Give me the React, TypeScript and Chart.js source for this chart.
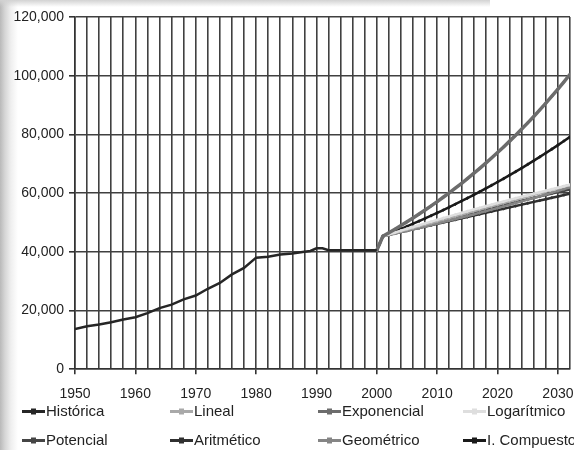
import React, { useEffect, useRef } from "react";
import { Chart, registerables } from "chart.js";

Chart.register(...registerables);

const histYears = [1950, 1952, 1954, 1956, 1958, 1960, 1962, 1964, 1966, 1968, 1970, 1972, 1974, 1976, 1978, 1980, 1982, 1984, 1986, 1988, 1989, 1990, 1991, 1992, 1994, 1996, 1998, 2000];
const histValues = [13700, 14600, 15200, 16000, 16900, 17700, 19100, 20800, 22000, 23800, 25100, 27400, 29400, 32300, 34500, 38000, 38300, 39100, 39400, 40000, 40300, 41200, 41200, 40550, 40550, 40550, 40550, 40550];

const projYears = [2000, 2001, 2002, 2003, 2004, 2005, 2006, 2007, 2008, 2009, 2010, 2011, 2012, 2013, 2014, 2015, 2016, 2017, 2018, 2019, 2020, 2021, 2022, 2023, 2024, 2025, 2026, 2027, 2028, 2029, 2030, 2031, 2032];

const linealValues = [40550, 45300, 45865, 46430, 46995, 47560, 48125, 48690, 49255, 49820, 50385, 50950, 51515, 52080, 52645, 53210, 53775, 54340, 54905, 55470, 56035, 56600, 57165, 57730, 58295, 58860, 59425, 59990, 60555, 61120, 61685, 62250, 62815];
const exponencialValues = [40550, 45300, 46479, 47689, 48930, 50204, 51511, 52852, 54228, 55640, 57088, 58574, 60099, 61663, 63268, 64915, 66605, 68339, 70118, 71943, 73816, 75737, 77708, 79731, 81806, 83935, 86120, 88362, 90662, 93022, 95443, 97927, 100476];
const logaritmicoValues = [40550, 45300, 45940, 46575, 47205, 47830, 48450, 49065, 49675, 50280, 50880, 51475, 52065, 52650, 53230, 53805, 54375, 54940, 55500, 56055, 56605, 57150, 57690, 58225, 58755, 59280, 59800, 60315, 60825, 61330, 61830, 62325, 62815];
const potencialValues = [40550, 45300, 45860, 46417, 46971, 47522, 48070, 48615, 49157, 49696, 50232, 50765, 51295, 51822, 52346, 52867, 53385, 53900, 54412, 54921, 55427, 55930, 56430, 56927, 57421, 57912, 58400, 58885, 59367, 59846, 60322, 60795, 61265];
const aritmeticoValues = [40550, 45300, 45768, 46236, 46704, 47172, 47640, 48108, 48576, 49044, 49512, 49980, 50448, 50916, 51384, 51852, 52320, 52788, 53256, 53724, 54192, 54660, 55128, 55596, 56064, 56532, 57000, 57468, 57936, 58404, 58872, 59340, 59808];
const geometricoValues = [40550, 45300, 45761, 46227, 46698, 47173, 47653, 48138, 48628, 49123, 49623, 50128, 50638, 51154, 51675, 52201, 52732, 53269, 53811, 54359, 54912, 55471, 56036, 56606, 57182, 57764, 58352, 58946, 59546, 60152, 60764, 61383, 62008];
const compuestoValues = [40550, 45300, 46123, 46961, 47814, 48682, 49566, 50466, 51383, 52316, 53266, 54234, 55219, 56222, 57243, 58283, 59342, 60420, 61517, 62634, 63772, 64930, 66109, 67310, 68533, 69778, 71045, 72335, 73649, 74987, 76349, 77736, 79148];

const seriesNames = ["Histórica", "Lineal", "Exponencial", "Logarítmico", "Potencial", "Aritmético", "Geométrico", "I. Compuesto"];
const seriesColors = ["#262626", "#a9a9a9", "#6c6c6c", "#dedede", "#454545", "#303030", "#858585", "#1a1a1a"];

const FONT = "Arial, 'Liberation Sans', sans-serif";

const toPoints = (xs: number[], ys: number[]) => xs.map((x, i) => ({ x, y: ys[i] }));

const legendPlugin = {
  id: "gridLegend",
  afterDraw(chart: any) {
    const ctx = chart.ctx;
    const cols = [22, 170, 318, 463];
    const rows = [411.5, 440.5];
    ctx.save();
    ctx.font = `15px ${FONT}`;
    ctx.textBaseline = "middle";
    ctx.textAlign = "left";
    seriesNames.forEach((name, i) => {
      const x = cols[i % 4];
      const y = rows[Math.floor(i / 4)];
      const color = seriesColors[i];
      ctx.strokeStyle = color;
      ctx.lineWidth = 3;
      ctx.beginPath();
      ctx.moveTo(x, y);
      ctx.lineTo(x + 23, y);
      ctx.stroke();
      ctx.fillStyle = color;
      ctx.fillRect(x + 9, y - 3, 5, 6);
      ctx.fillStyle = "#222";
      ctx.fillText(name, x + 24, y + 0.5);
    });
    ctx.restore();
  },
};

const chartAreaBg = {
  id: "chartAreaBg",
  beforeDraw(chart: any) {
    const { ctx, chartArea } = chart;
    ctx.save();
    ctx.fillStyle = "#ffffff";
    ctx.fillRect(chartArea.left, chartArea.top, chartArea.right - chartArea.left, chartArea.bottom - chartArea.top);
    ctx.restore();
  },
};

export default function App() {
  const ref = useRef<HTMLCanvasElement>(null);

  useEffect(() => {
    if (!ref.current) return;
    const projSets = [linealValues, exponencialValues, logaritmicoValues, potencialValues, aritmeticoValues, geometricoValues, compuestoValues];
    const order = [2, 3, 1, 6, 4, 5, 7];
    const datasets: any[] = [
      {
        label: seriesNames[0],
        data: toPoints(histYears, histValues),
        borderColor: seriesColors[0],
        backgroundColor: seriesColors[0],
        borderWidth: 2.5,
        pointRadius: 0,
      },
    ];
    order.forEach((idx) => {
      datasets.push({
        label: seriesNames[idx],
        data: toPoints(projYears, projSets[idx - 1]),
        borderColor: seriesColors[idx],
        backgroundColor: seriesColors[idx],
        borderWidth: idx === 2 ? 3.5 : 2.5,
        pointRadius: idx === 8 ? 0 : 1.8,
        pointStyle: "rectRot",
        pointBorderWidth: 0,
      });
    });

    const chart = new Chart(ref.current, {
      type: "line",
      data: { datasets },
      options: {
        animation: false,
        responsive: false,
        devicePixelRatio: 1,
        layout: { padding: { top: 17, right: 3, bottom: 35, left: 0 } },
        plugins: { legend: { display: false }, tooltip: { enabled: false } },
        elements: { line: { tension: 0 } },
        scales: {
          x: {
            type: "linear",
            min: 1950,
            max: 2032,
            border: { color: "#333", width: 1.5 },
            grid: {
              color: "#404040",
              lineWidth: 1.6,
              tickLength: 5,
              tickColor: (c: any) => (c.tick && c.tick.value % 10 === 0 ? "#333" : "rgba(0,0,0,0)"),
            },
            ticks: {
              stepSize: 2,
              autoSkip: false,
              maxRotation: 0,
              padding: 12,
              color: "#222",
              font: { family: FONT, size: 14 },
              callback: (v: any) => (Number(v) % 10 === 0 ? String(v) : ""),
            },
            afterFit: (scale: any) => {
              scale.paddingRight = 0;
              scale.paddingLeft = 0;
            },
          },
          y: {
            min: 0,
            max: 120000,
            border: { color: "#333", width: 1.5 },
            grid: { color: "#404040", lineWidth: 1.6, tickLength: 6, tickColor: "#333" },
            ticks: {
              stepSize: 20000,
              padding: 5,
              color: "#222",
              font: { family: FONT, size: 14 },
              callback: (v: any) => Number(v).toLocaleString("en-US"),
            },
            afterFit: (scale: any) => {
              scale.width = 75;
            },
          },
        },
      },
      plugins: [chartAreaBg, legendPlugin],
    });
    return () => chart.destroy();
  }, []);

  return (
    <div
      style={{
        position: "absolute",
        left: 0,
        top: 0,
        width: 574,
        height: 450,
        overflow: "hidden",
        background: "linear-gradient(to right, #b9b9b9 0px, #d6d6d6 5px, #efefef 11px, #ffffff 18px)",
      }}
    >
      <div
        style={{
          position: "absolute",
          left: 0,
          top: 0,
          width: 490,
          height: 7,
          background: "linear-gradient(to bottom, #d2d2d2, rgba(255,255,255,0))",
        }}
      />
      <canvas ref={ref} width={574} height={450} style={{ position: "absolute", left: 0, top: 0, width: 574, height: 450 }} />
    </div>
  );
}
